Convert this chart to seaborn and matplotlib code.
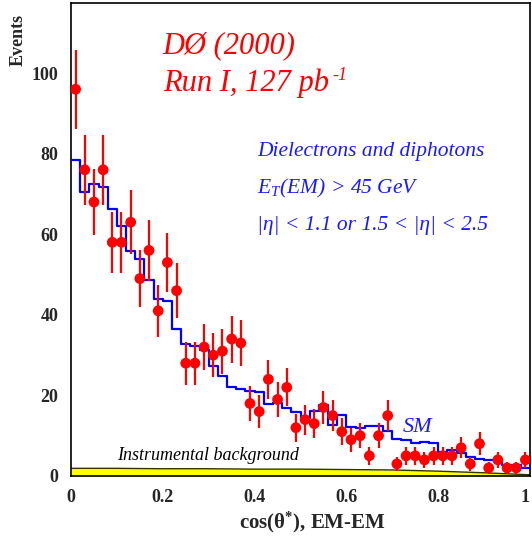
import numpy as np
import pandas as pd
import matplotlib
matplotlib.use('Agg')
import matplotlib.pyplot as plt
from matplotlib.ticker import MultipleLocator
import seaborn as sns

# cos(theta*) binning, 50 bins
edges = np.linspace(0.0, 1.0, 51)
centers = 0.5 * (edges[:-1] + edges[1:])

data_counts = [96, 76, 68, 76, 58, 58, 63, 49, 56, 41,
               53, 46, 28, 28, 32, 30, 31, 34, 33, 18,
               16, 24, 19, 22, 12, 14, 13, 17, 15, 11,
               9, 10, 5, 10, 15, 3, 5, 5, 4, 5,
               5, 5, 7, 3, 8, 2, 4, 2, 2, 4]

# SM expectation (blue histogram)
sm_counts = [78.4, 70.6, 72.4, 71.7, 66.3, 62.1, 55.9, 53.8, 48.6, 43.9,
             43.5, 36.6, 32.8, 32.3, 31.2, 27.2, 24.8, 22.2, 21.7, 21.2,
             20.8, 17.9, 18.2, 17.0, 15.8, 14.3, 16.2, 17.6, 12.7, 15.1,
             12.1, 11.8, 12.4, 12.4, 11.2, 9.2, 8.9, 8.1, 8.5, 8.1,
             6.0, 6.5, 5.6, 4.8, 4.1, 4.0, 4.0, 2.7, 2.7, 1.9]

# instrumental background (yellow band)
bkg_x = [0.0, 0.1, 0.2, 0.3, 0.4, 0.5, 0.6, 0.7, 0.8, 0.9, 1.0]
bkg_y = [1.9, 1.9, 1.8, 1.8, 1.7, 1.7, 1.6, 1.5, 1.2, 0.8, 0.3]

df = pd.DataFrame({'cos': centers, 'n': data_counts, 'sm': sm_counts})
df['err'] = np.sqrt(df['n'])

sns.set_style('white')
plt.rcParams['font.family'] = ['Liberation Serif', 'DejaVu Serif']
plt.rcParams['mathtext.default'] = 'regular'

fig = plt.figure(figsize=(5.32, 5.42), dpi=100)
ax = fig.add_axes([71/532, 1 - 476/542, 459/532, 473/542])

# background band
ax.fill_between(bkg_x, 0, bkg_y, color='#ffff00', lw=0, zorder=1)
ax.plot(bkg_x, bkg_y, color='#333300', lw=1.0, zorder=2)

# SM histogram
sns.histplot(data=df, x='cos', weights='sm', binwidth=0.02, binrange=(0, 1),
             element='step', fill=False, color='#0000ff', linewidth=1.6,
             ax=ax, zorder=3)

# data points with sqrt(N) errors
ax.vlines(df['cos'], df['n'] - df['err'], df['n'] + df['err'],
          color='#ff0000', lw=1.6, zorder=4)
sns.scatterplot(data=df, x='cos', y='n', color='#ff0000', s=60,
                edgecolor='none', ax=ax, zorder=5)

ax.set_xlim(0, 1)
ax.set_ylim(0, 117.4)
ax.xaxis.set_major_locator(MultipleLocator(0.2))
ax.xaxis.set_minor_locator(MultipleLocator(0.05))
ax.yaxis.set_major_locator(MultipleLocator(20))
ax.yaxis.set_minor_locator(MultipleLocator(5))
ax.set_xticks([0, 0.2, 0.4, 0.6, 0.8, 1.0])
ax.set_xticklabels(['0', '0.2', '0.4', '0.6', '0.8', '1'])
ax.tick_params(axis='y', which='major', direction='in', length=7, width=1.2,
               labelsize=13, pad=9)
ax.tick_params(axis='y', which='minor', direction='in', length=3.6, width=1.2)
ax.tick_params(axis='x', which='major', direction='out', length=4.5, width=1.2,
               labelsize=13, pad=5)
ax.tick_params(axis='x', which='minor', direction='out', length=2.2, width=1.2)
for lab in ax.get_xticklabels() + ax.get_yticklabels():
    lab.set_fontweight('bold')
# last label sits at the figure edge, keep it inside
ax.get_xticklabels()[-1].set_horizontalalignment('right')
for sp in ax.spines.values():
    sp.set_linewidth(1.2)
    sp.set_color('black')

ax.set_xlabel('cos(θ$^{*}$), EM-EM', fontsize=15, fontweight='bold',
              va='center', ha='center')
ax.xaxis.set_label_coords(0.525, -0.099)
ax.set_ylabel('Events', fontsize=13, fontweight='bold', va='center',
              ha='center')
ax.yaxis.set_label_coords(-0.115, 0.922)

ax.text(0.2, 104.9, 'DØ (2000)', color='#ff0000', fontsize=22, style='italic')
ax.text(0.2, 95.6, 'Run I, 127 pb', color='#ff0000', fontsize=22,
        style='italic')
ax.text(0.569, 98.4, '-1', color='#ff0000', fontsize=13, style='italic')
ax.text(0.405, 79.4, 'Dielectrons and diphotons', color='#1a1aff',
        fontsize=15.5, style='italic')
ax.text(0.405, 70.0, 'E$_{T}$(EM) > 45 GeV', color='#1a1aff', fontsize=15.5,
        style='italic')
ax.text(0.405, 61.0, '|η| < 1.1 or 1.5 < |η| < 2.5', color='#1a1aff',
        fontsize=15.5, style='italic')
ax.text(0.723, 10.9, 'SM', color='#1a1aff', fontsize=16, style='italic')
ax.text(0.1, 4.0, 'Instrumental background', color='black', fontsize=13,
        style='italic')

fig.savefig('out.png', dpi=100)
